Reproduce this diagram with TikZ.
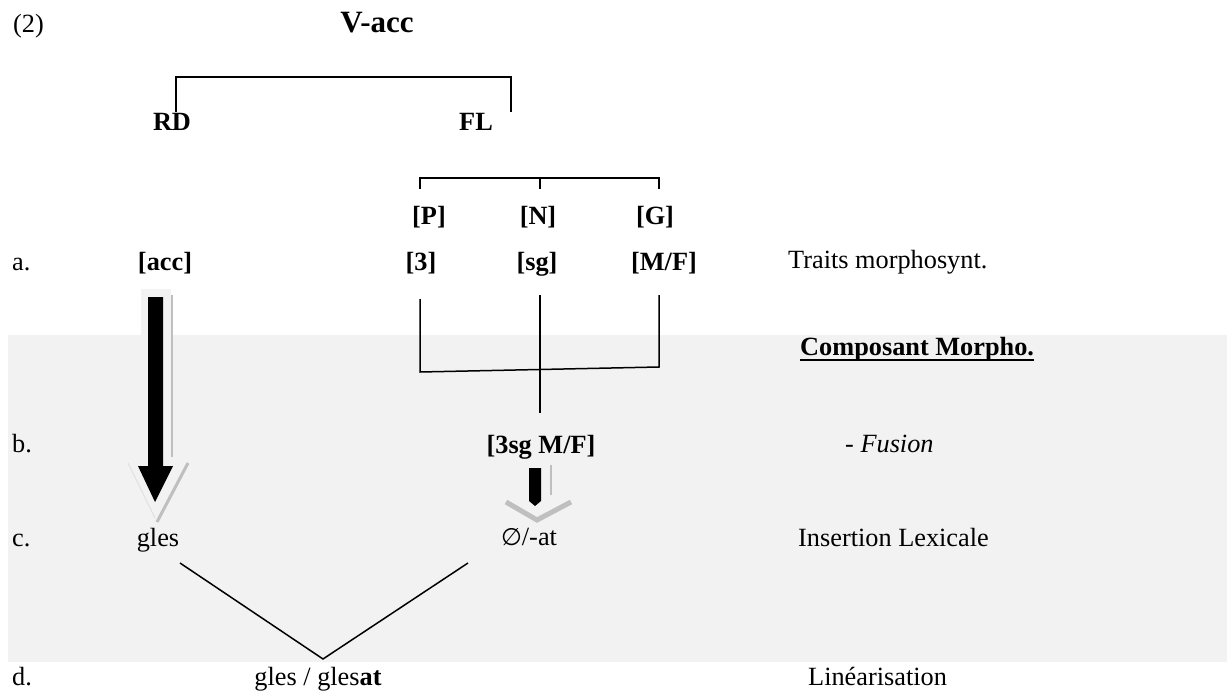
\documentclass[tikz,border=0pt]{standalone}
\usepackage{fontspec}
\setmainfont{Liberation Serif}
\newfontfamily\symfont{DejaVu Sans}
\definecolor{band}{HTML}{F2F2F2}
\definecolor{shade}{HTML}{BFBFBF}
\definecolor{faint}{HTML}{E0E0E0}
\begin{document}
\begin{tikzpicture}[x=1pt,y=-1pt,
  txt/.style={inner sep=0pt,anchor=base,font=\fontsize{26.3}{30}\selectfont},
  bftxt/.style={txt,font=\fontsize{26.3}{30}\selectfont\bfseries},
  lefttxt/.style={txt,anchor=base west},
  treeline/.style={line width=1.8pt,line join=miter},
  thinline/.style={line width=1.5pt},
  shadeline/.style={draw=shade,line width=2.5pt},
  blockarrow/.style={fill=black,draw=none}]
% canvas
\useasboundingbox (0,0) rectangle (1227,693);
\fill[white] (0,0) rectangle (1227,693);
\fill[band] (8,335) rectangle (1227,662);
% light shadow of left arrow above band
\fill[band] (141,289) rectangle (171,335);

% title
\node[lefttxt] (num) at (13,33) {(2)};
\node[txt,font=\fontsize{31}{36}\selectfont\bfseries] (vacc) at (377,33) {V-acc};

% top bracket
\coordinate (b1) at (176,112);
\coordinate (b2) at (176,77);
\coordinate (b3) at (511,77);
\coordinate (b4) at (511,112);
\draw[treeline] (b1) -- (b2) -- (b3) -- (b4);
\node[bftxt] (rd) at (172,130) {RD};
\node[bftxt] (fl) at (476,130) {FL};

% FL bracket
\coordinate (f1) at (420,189);
\coordinate (f2) at (420,178);
\coordinate (f3) at (659,178);
\coordinate (f4) at (659,189);
\coordinate (fm) at (540,178);
\coordinate (fmb) at (540,189);
\draw[treeline] (f1) -- (f2) -- (f3) -- (f4);
\draw[treeline] (fm) -- (fmb);

\node[bftxt] (p) at (429,224) {[P]};
\node[bftxt] (n) at (538,224) {[N]};
\node[bftxt] (g) at (655,224) {[G]};

% row a
\node[lefttxt] (la) at (12,270) {a.};
\node[bftxt] (acc) at (165,270) {[acc]};
\node[bftxt] (three) at (421,270) {[3]};
\node[bftxt] (sg) at (537,270) {[sg]};
\node[bftxt] (mf) at (664,270) {[M/F]};
\node[lefttxt] (traits) at (788,268) {Traits morphosynt.};

% fusion lines
\coordinate (l1) at (420,299);
\coordinate (l2) at (420,372);
\coordinate (l3) at (659,367);
\coordinate (l4) at (659,295);
\coordinate (m1) at (540,295);
\coordinate (m2) at (540,413);
\draw[thinline] (l1) -- (l2) -- (l3) -- (l4);
\draw[thinline] (m1) -- (m2);

\node[bftxt,anchor=base west] (comp) at (800,355) {Composant Morpho.};
\draw[line width=2pt] ([yshift=-5pt]comp.base west) -- ([yshift=-5pt]comp.base east);

% row b
\node[lefttxt] (lb) at (12,452) {b.};
\node[bftxt] (fus) at (541,453) {[3sg M/F]};
\node[lefttxt] (fusion) at (845,452) {- \textit{Fusion}};

% left block arrow with shadow
\fill[blockarrow] (148,297) -- (163,297) -- (163,466) -- (173,466) -- (155,502) -- (138,466) -- (148,466) -- cycle;
\draw[shadeline] (172,295) -- (172,457);
\draw[draw=shade,line width=3pt] (188,463) -- (157,522);
\draw[draw=faint,line width=1pt] (128,463) -- (155,518);

% small block arrow with shadow
\fill[blockarrow] (529,468) -- (541,468) -- (541,501) -- (535,506) -- (529,501) -- cycle;
\draw[draw=shade,line width=2pt] (551,465) -- (551,495);
\draw[draw=shade,line width=5pt,line join=miter] (506,502) -- (537,520) -- (571,502);

% row c
\node[lefttxt] (lc) at (12,546) {c.};
\node[txt] (gles) at (158,546) {gles};
\node[txt] (at) at (529,545) {{\symfont\fontsize{24}{28}\selectfont ∅}/-at};
\node[lefttxt] (ins) at (798,546) {Insertion Lexicale};

% linearisation lines
\coordinate (v1) at (180,563);
\coordinate (v2) at (323,659);
\coordinate (v3) at (468,563);
\draw[thinline] (v1) -- (v2) -- (v3);

% row d
\node[lefttxt] (ld) at (12,685) {d.};
\node[txt] (lin) at (318,685) {gles / gles\textbf{at}};
\node[lefttxt] (linl) at (808,685) {Linéarisation};
\end{tikzpicture}
\end{document}
